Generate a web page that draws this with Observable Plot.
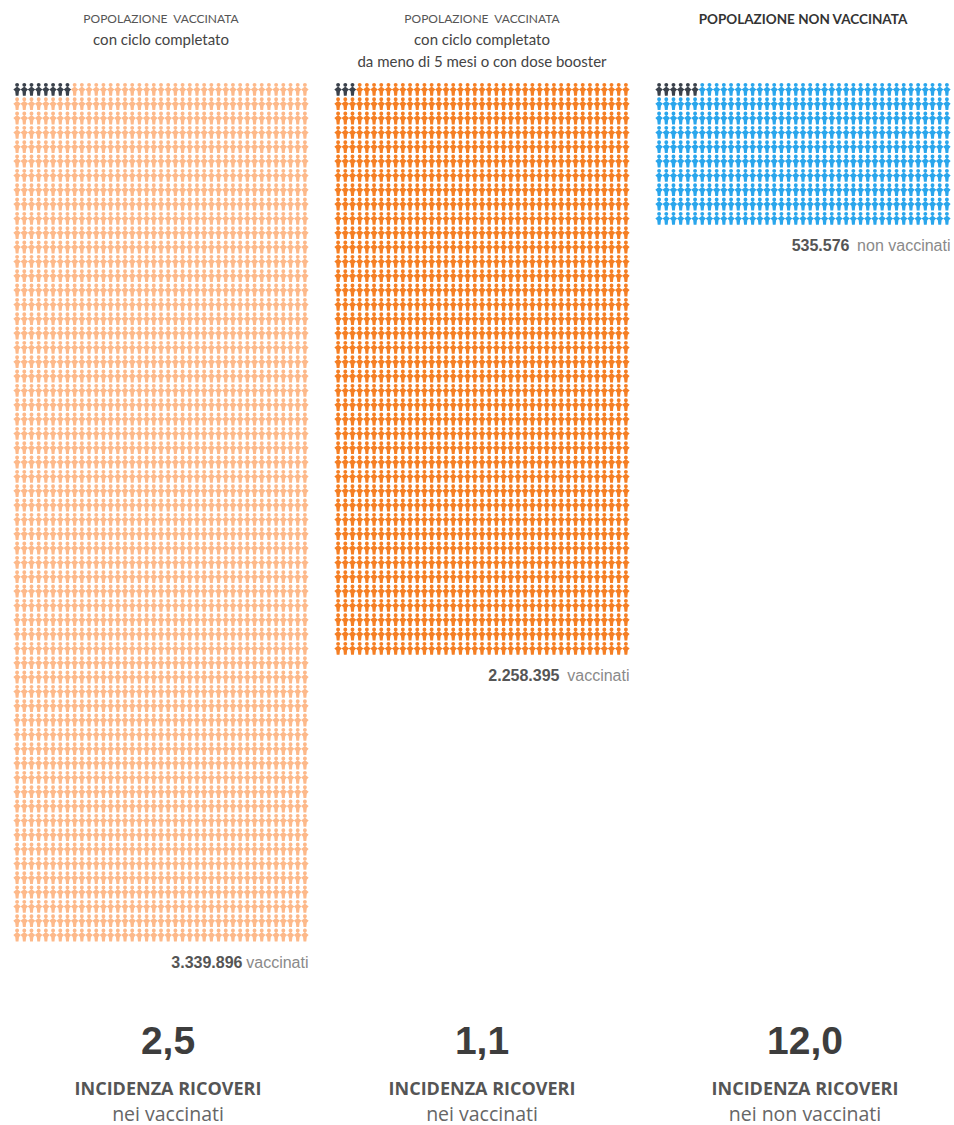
<!DOCTYPE html>
<html lang="it">
<head>
<meta charset="utf-8">
<script src="https://cdn.jsdelivr.net/npm/d3@7"></script>
<script src="https://cdn.jsdelivr.net/npm/@observablehq/plot@0.6"></script>
<style>
html,body{margin:0;padding:0;background:#fff}
svg{display:block}
</style>
</head>
<body>
<div id="chart"></div>
<script>
// Data
const panels = ["vaccinati", "booster", "non vaccinati"];
const rowCounts = [60, 40, 10];
const columnCount = 41;
const hospitalisedFigures = [8, 3, 6];
const populationNumbers = ["3.339.896", "2.258.395", "535.576"];
const populationSuffix = ["vaccinati", "vaccinati", "non vaccinati"];
const incidence = ["2,5", "1,1", "12,0"];
const incidenceLabel = ["INCIDENZA RICOVERI", "INCIDENZA RICOVERI", "INCIDENZA RICOVERI"];
const incidenceSub = ["nei vaccinati", "nei vaccinati", "nei non vaccinati"];
const headerLine1 = ["POPOLAZIONE  VACCINATA", "POPOLAZIONE  VACCINATA", "POPOLAZIONE NON VACCINATA"];
const headerLine2 = ["con ciclo completato", "con ciclo completato", ""];
const headerLine3 = ["", "da meno di 5 mesi o con dose booster", ""];
const panelColors = ["#fdb98a", "#f57f24", "#2aa6ec"];
const hospitalColor = "#3a414b";

// Unit table: one person glyph per cell
const cells = [];
panels.forEach((panel, p) => {
  d3.range(rowCounts[p]).forEach(row => {
    d3.range(columnCount).forEach(col => {
      const index = row * columnCount + col;
      cells.push({panel, row, col, kind: index < hospitalisedFigures[p] ? "ricoverati" : panel});
    });
  });
});

// Person glyph: head + diamond-shaped body
const person = {
  draw(ctx, size) {
    const r = Math.sqrt(size / Math.PI);
    const head = r * 0.42;
    ctx.moveTo(head, -r * 1.02);
    ctx.arc(0, -r * 1.02, head, 0, 2 * Math.PI);
    ctx.moveTo(0, -r * 0.7);
    ctx.lineTo(r * 0.8, -r * 0.05);
    ctx.lineTo(r * 0.4, r * 0.35);
    ctx.lineTo(r * 0.3, r * 1.3);
    ctx.lineTo(-r * 0.3, r * 1.3);
    ctx.lineTo(-r * 0.4, r * 0.35);
    ctx.lineTo(-r * 0.8, -r * 0.05);
    ctx.closePath();
  }
};

const rows = panels.map((panel, i) => ({
  panel, i,
  rowsEnd: rowCounts[i] - 0.5,
  lastCol: columnCount - 0.5
}));

const centerDx = [7, 0, 2];
const numberDx = [-66, -70, -101];
const textColor = "#3d3d3d";

const marks = [
  Plot.dot(cells, {
    x: "col", y: "row", fx: "panel",
    fill: "kind", r: 4.7, symbol: person, stroke: "none", imageFilter: "blur(0.7px)"
  }),
  Plot.text(rows.filter(d => d.i < 2), {
    fx: "panel", frameAnchor: "top", dy: -68, text: d => headerLine1[d.i],
    fontFamily: "Lato", fontSize: 12, fill: "#555"
  }),
  Plot.text(rows.filter(d => d.i === 2), {
    fx: "panel", frameAnchor: "top", dy: -68, text: d => headerLine1[d.i],
    fontFamily: "Lato", fontSize: 13.5, fontWeight: 700, fill: "#333"
  }),
  Plot.text(rows, {
    fx: "panel", frameAnchor: "top", dy: -48, text: d => headerLine2[d.i],
    fontFamily: "Lato", fontSize: 15, fill: "#444"
  }),
  Plot.text(rows, {
    fx: "panel", frameAnchor: "top", dy: -26, text: d => headerLine3[d.i],
    fontFamily: "Lato", fontSize: 15, fill: "#444"
  }),
  Plot.text(rows, {
    fx: "panel", x: "lastCol", y: "rowsEnd", dy: 20, textAnchor: "end",
    text: d => populationSuffix[d.i],
    fontFamily: "Liberation Sans", fontSize: 16, fill: "#8a8a8a"
  }),
  ...rows.map(d => Plot.text([d], {
    fx: "panel", x: "lastCol", y: "rowsEnd", dy: 20, dx: numberDx[d.i], textAnchor: "end",
    text: () => populationNumbers[d.i],
    fontFamily: "Liberation Sans", fontSize: 16, fontWeight: 700, fill: "#555"
  })),
  ...rows.flatMap(d => [
    Plot.text([d], {
      fx: "panel", frameAnchor: "bottom", dy: 111, dx: centerDx[d.i], text: () => incidence[d.i],
      fontFamily: "Liberation Sans", fontSize: 39, fontWeight: 700, fill: textColor
    }),
    Plot.text([d], {
      fx: "panel", frameAnchor: "bottom", dy: 152, dx: centerDx[d.i], text: () => incidenceLabel[d.i],
      fontFamily: "Open Sans", fontSize: 18, fontWeight: 700, fill: "#555"
    }),
    Plot.text([d], {
      fx: "panel", frameAnchor: "bottom", dy: 178, dx: centerDx[d.i], text: () => incidenceSub[d.i],
      fontFamily: "Open Sans", fontSize: 19.5, fill: "#666"
    })
  ])
];

const chart = Plot.plot({
  width: 954,
  height: 1125,
  marginTop: 82,
  marginBottom: 183,
  marginLeft: 13,
  marginRight: 2,
  fx: {domain: panels, axis: null, paddingInner: 0.082, paddingOuter: 0, align: 0},
  x: {domain: [-0.5, columnCount - 0.5], axis: null},
  y: {domain: [-0.5, d3.max(rowCounts) - 0.5], axis: null, reverse: true},
  color: {domain: [...panels, "ricoverati"], range: [...panelColors, hospitalColor]},
  style: {background: "#fff", overflow: "visible"},
  marks
});
document.getElementById("chart").append(chart);
</script>
</body>
</html>
